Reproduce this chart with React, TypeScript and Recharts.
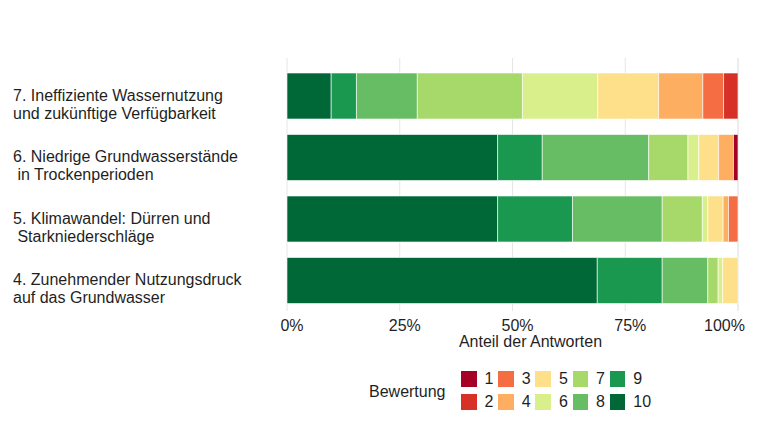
import React from 'react';
import { BarChart, Bar, XAxis, YAxis, CartesianGrid } from 'recharts';

const FONT = '"Liberation Sans", Arial, Helvetica, sans-serif';
const TEXT = '#1f1f1f';

// topics, top to bottom (second line after \n)
const categories = [
  '7. Ineffiziente Wassernutzung\nund zukünftige Verfügbarkeit',
  '6. Niedrige Grundwasserstände\n in Trockenperioden',
  '5. Klimawandel: Dürren und\n Starkniederschläge',
  '4. Zunehmender Nutzungsdruck\nauf das Grundwasser',
];

const ratings = ['1', '2', '3', '4', '5', '6', '7', '8', '9', '10'];

// RdYlGn, 1 = red ... 10 = dark green
const ratingColors = [
  '#a50026', '#d73027', '#f46d43', '#fdae61', '#fee08b',
  '#d9ef8b', '#a6d96a', '#66bd63', '#1a9850', '#006837',
];

// share of answers in % per rating, same order as categories
const share1 = [0, 1.0, 0, 0];
const share2 = [3.2, 0, 0, 0];
const share3 = [4.6, 0, 2.1, 0];
const share4 = [9.8, 3.3, 1.2, 0];
const share5 = [13.5, 4.4, 3.4, 3.4];
const share6 = [16.7, 2.4, 1.2, 1.0];
const share7 = [23.3, 8.7, 8.9, 2.3];
const share8 = [13.5, 23.6, 19.9, 10.1];
const share9 = [5.6, 9.9, 16.6, 14.4];
const share10 = [9.8, 46.7, 46.7, 68.8];

const shares = [share1, share2, share3, share4, share5, share6, share7, share8, share9, share10];

const xTicks = [0, 25, 50, 75, 100];

const data = categories.map((name, i) => {
  const row: Record<string, string | number> = { name };
  ratings.forEach((r, k) => {
    row[r] = shares[k][i];
  });
  return row;
});

// 10 sits on the left, 1 on the right
const stackOrder = ratings.map((_, k) => k).reverse();

function CategoryTick({ y, payload }: any) {
  const lines = String(payload.value).split('\n');
  return (
    <text
      x={13}
      y={y}
      fontSize={16}
      fill={TEXT}
      fontFamily={FONT}
      xmlSpace="preserve"
      style={{ whiteSpace: 'pre' }}
    >
      {lines.map((line, i) => (
        <tspan key={i} x={13} dy={i === 0 ? '0.3em' : 18}>
          {line}
        </tspan>
      ))}
    </text>
  );
}

function PercentTick({ x, y, payload }: any) {
  const last = payload.value === 100;
  return (
    <text
      x={last ? x + 7 : x + 5}
      y={y + 20}
      textAnchor={last ? 'end' : 'middle'}
      fontSize={16}
      fill={TEXT}
      fontFamily={FONT}
    >
      {payload.value}%
    </text>
  );
}

function AxisTitle({ viewBox }: any) {
  const { x = 0, y = 0, width = 0 } = viewBox || {};
  return (
    <text
      x={x + width / 2 + 18}
      y={y + 36}
      textAnchor="middle"
      fontSize={16}
      fill={TEXT}
      fontFamily={FONT}
    >
      Anteil der Antworten
    </text>
  );
}

function RatingLegend() {
  const colX = (c: number) => 461 + c * 37.2;
  const rowY = (r: number) => 371 + r * 23.3;
  return (
    <div style={{ position: 'absolute', left: 0, top: 0, fontFamily: FONT, color: TEXT }}>
      <div style={{ position: 'absolute', left: 369, top: 383, fontSize: 16, lineHeight: '17px' }}>
        Bewertung
      </div>
      {ratings.map((r, k) => {
        const c = Math.floor(k / 2);
        const row = k % 2;
        return (
          <React.Fragment key={r}>
            <div
              style={{
                position: 'absolute',
                left: colX(c),
                top: rowY(row),
                width: 15.5,
                height: 16,
                background: ratingColors[k],
              }}
            />
            <div
              style={{
                position: 'absolute',
                left: colX(c) + 23.5,
                top: rowY(row),
                fontSize: 16,
                lineHeight: '16px',
              }}
            >
              {r}
            </div>
          </React.Fragment>
        );
      })}
    </div>
  );
}

export default function App() {
  return (
    <div style={{ position: 'absolute', left: 0, top: 0, width: 760, height: 440, background: '#fff' }}>
      <BarChart
        width={760}
        height={440}
        data={data}
        layout="vertical"
        barSize={46}
        margin={{ top: 58, right: 22, left: 7, bottom: 99 }}
      >
        <CartesianGrid horizontal={false} stroke="#e6e6e6" strokeWidth={1} />
        <XAxis
          type="number"
          domain={[0, 100]}
          ticks={xTicks}
          axisLine={false}
          tickLine={false}
          tickSize={0}
          tickMargin={0}
          height={30}
          tick={<PercentTick />}
          label={<AxisTitle />}
          interval={0}
        />
        <YAxis
          type="category"
          dataKey="name"
          width={280}
          axisLine={false}
          tickLine={false}
          padding={{ top: 7, bottom: 0 }}
          tick={<CategoryTick />}
          interval={0}
        />
        {stackOrder.map((k) => (
          <Bar
            key={ratings[k]}
            dataKey={ratings[k]}
            stackId="rating"
            fill={ratingColors[k]}
            stroke="#ffffff"
            strokeWidth={0.6}
            isAnimationActive={false}
          />
        ))}
      </BarChart>
      <RatingLegend />
    </div>
  );
}
